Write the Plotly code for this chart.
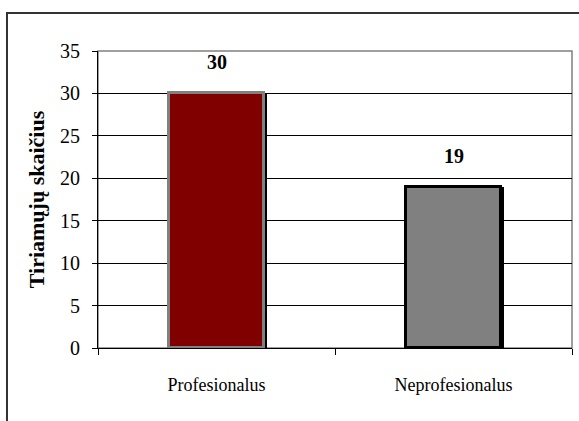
import plotly.graph_objects as go

# Respondent counts by group
categories = ["Profesionalus", "Neprofesionalus"]
counts = [30, 19]
fill_colors = ["#800000", "#808080"]
edge_colors = ["#808080", "#000000"]

y_ticks = [0, 5, 10, 15, 20, 25, 30, 35]

BAR_W = 0.397
SHADOW_SHIFT = 0.013

FONT = "Liberation Serif"

fig = go.Figure()

# drop shadow behind each bar
fig.add_trace(go.Bar(
    x=categories, y=counts,
    width=BAR_W, offset=-BAR_W / 2 + SHADOW_SHIFT,
    marker=dict(color="#000000", line=dict(width=0)),
    hoverinfo="skip", showlegend=False,
))

# main bars
fig.add_trace(go.Bar(
    x=categories, y=counts,
    width=BAR_W, offset=-BAR_W / 2,
    marker=dict(color=fill_colors, line=dict(color=edge_colors, width=3)),
    showlegend=False,
))

# value labels above the bars
for cat, val in zip(categories, counts):
    fig.add_annotation(
        x=cat, y=val, text=f"<b>{val}</b>", showarrow=False,
        yanchor="bottom", yshift=18,
        font=dict(family=FONT, size=20, color="#000000"),
    )

# grey plot-area frame
fig.add_shape(type="rect", xref="paper", yref="paper", x0=0, y0=0, x1=1, y1=1,
              line=dict(color="#808080", width=1.5), layer="below")

# outer chart frame
fig.add_shape(type="rect", xref="paper", yref="paper",
              x0=-0.192, y0=-0.3, x1=1.05, y1=1.128,
              line=dict(color="#333333", width=2))

fig.update_layout(
    width=579, height=421,
    margin=dict(l=98, r=7, t=51, b=73),
    paper_bgcolor="white", plot_bgcolor="white",
    barmode="overlay", bargap=0,
    font=dict(family=FONT, size=18, color="#000000"),
)

fig.update_xaxes(
    tickson="boundaries", ticks="outside", ticklen=6, tickcolor="#000000",
    showline=True, linecolor="#000000", linewidth=1,
    showgrid=False, tickfont=dict(size=18, family=FONT),
    ticklabelstandoff=20,
)

fig.update_yaxes(
    range=[0, 35], tickvals=y_ticks, ticks="outside", ticklen=5,
    tickcolor="#000000", showline=True, linecolor="#000000", linewidth=1,
    showgrid=True, gridcolor="#000000", gridwidth=1,
    zeroline=False, tickfont=dict(size=20, family=FONT),
    ticklabelstandoff=8,
    title=dict(text="<b>Tiriamųjų skaičius</b>", standoff=9,
               font=dict(size=22, family=FONT)),
)

fig.write_html("out.html")
